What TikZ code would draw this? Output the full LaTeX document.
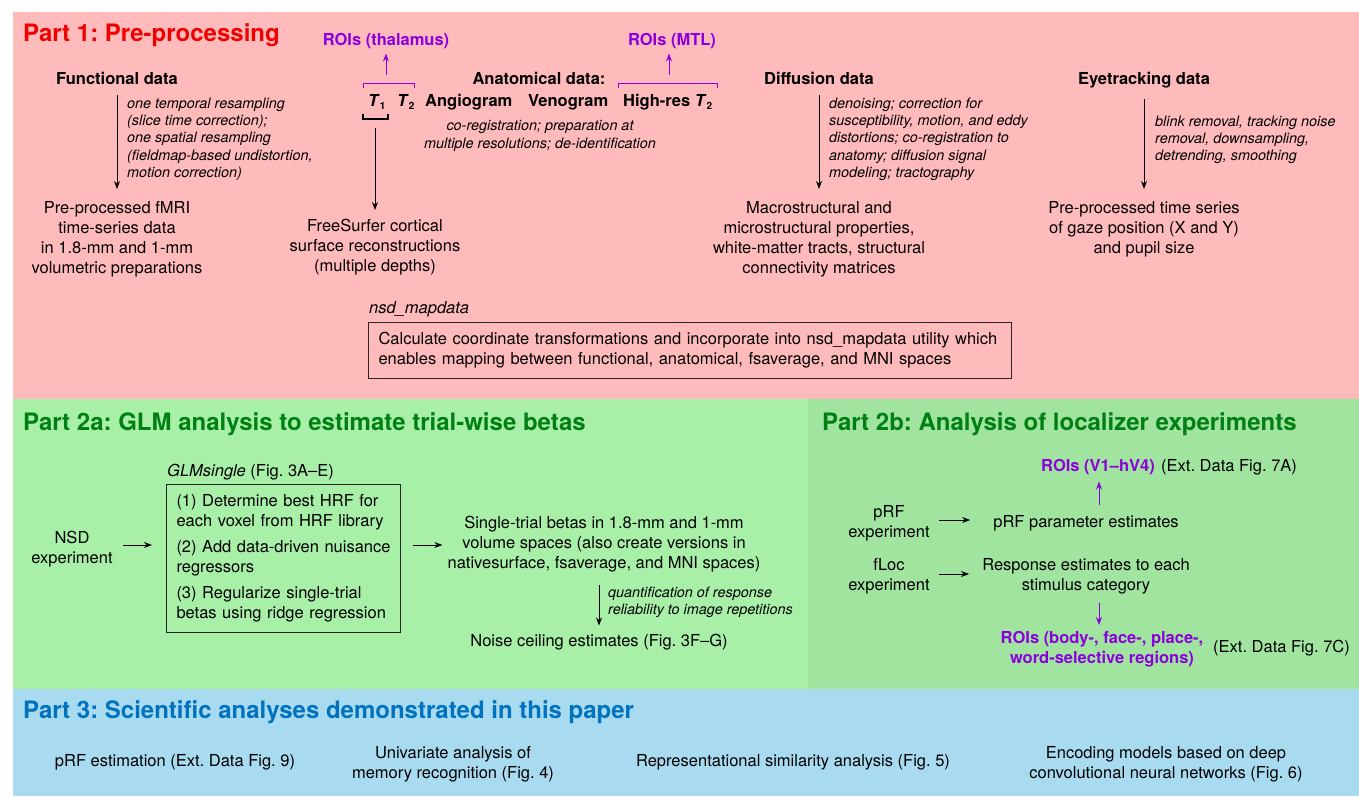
\documentclass[tikz,border=0pt]{standalone}
\usepackage{fontspec}
\setmainfont{TeX Gyre Heros}
\usetikzlibrary{arrows.meta}
\definecolor{pinkbg}{RGB}{255,187,187}
\definecolor{greenA}{RGB}{168,240,168}
\definecolor{greenB}{RGB}{160,228,160}
\definecolor{bluebg}{RGB}{168,218,240}
\definecolor{titlered}{RGB}{240,0,0}
\definecolor{titlegreen}{RGB}{0,128,20}
\definecolor{titleblue}{RGB}{0,114,190}
\definecolor{roipurple}{RGB}{140,0,220}
\newcommand\bodyfs{\fontsize{16.5}{20}\selectfont}
\newcommand\notefs{\fontsize{14.4}{17.3}\selectfont\itshape}
\newcommand\tsub[1]{\raisebox{-3.5pt}{\fontsize{10}{10}\selectfont\bfseries #1}}
\frenchspacing
\begin{document}
\begin{tikzpicture}[x=1pt,y=-1pt,
  tx/.style={inner sep=0pt, font=\bodyfs, align=center},
  bx/.style={inner sep=0pt, font=\bodyfs\bfseries},
  roi/.style={bx, text=roipurple, align=center},
  note/.style={inner sep=0pt, font=\notefs, align=left, anchor=north west},
  ttl/.style={inner sep=0pt, anchor=base west, font=\fontsize{24}{28}\selectfont\bfseries},
  arr/.style={draw=black, line width=0.9pt, -{Stealth[length=8pt,width=6pt]}},
  parr/.style={draw=roipurple, line width=1pt, -{Stealth[length=8pt,width=6pt]}},
  brk/.style={draw=roipurple, line width=1pt},
  framebox/.style={draw=black!85, line width=1pt, inner xsep=10pt, inner ysep=10pt, align=left, font=\bodyfs, anchor=north west}
]
\useasboundingbox (0,0) rectangle (1359,796);
\fill[white] (0,0) rectangle (1359,796);
% backgrounds
\fill[pinkbg] (13,12) rectangle (1359,399);
\fill[greenA] (13,399) rectangle (808,689);
\fill[greenB] (808,399) rectangle (1359,689);
\fill[bluebg] (13,689) rectangle (1359,796);

% ---------------- Part 1 ----------------
\node[ttl, text=titlered] (p1) at (23,41) {Part 1: Pre-processing};

% functional
\node[bx, anchor=base] (func) at (117,84) {Functional data};
\node[tx, anchor=north] (funcout) at (117,201) {Pre-processed fMRI\\time-series data\\in 1.8-mm and 1-mm\\volumetric preparations};
\draw[arr, shorten <=11pt, shorten >=12pt] (func) -- (funcout);
\node[note] (funcnote) at (127,97.5) {one temporal resampling\\(slice time correction);\\one spatial resampling\\(fieldmap-based undistortion,\\motion correction)};

% anatomical
\node[roi, anchor=base] (roith) at (386,45) {ROIs (thalamus)};
\node[bx, anchor=base west] (t1) at (368,106) {\textit{T}\tsub{1}};
\node[bx, anchor=base west] (t2) at (397,106) {\textit{T}\tsub{2}};
\draw[brk] (363,88) -- (363,83) -- (414,83) -- (414,88);
\coordinate (thb) at (386,75);
\draw[parr, shorten >=5pt] (thb) -- (roith);
\draw[line width=1.1pt] (363,114) -- (363,119) -- (388,119) -- (388,114);
\coordinate (t1b) at (375,119);
\node[tx, anchor=north] (fs) at (375,219) {FreeSurfer cortical\\surface reconstructions\\(multiple depths)};
\draw[arr, shorten <=9pt, shorten >=9pt] (t1b) -- (fs);

\node[bx, anchor=base] (anat) at (539,84) {Anatomical data:};
\node[bx, anchor=base west] (angio) at (425,106) {Angiogram};
\node[bx, anchor=base west] (veno) at (528,106) {Venogram};
\node[bx, anchor=base west] (hires) at (623,106) {High-res \textit{T}\tsub{2}};
\node[note, anchor=north, align=center] (anatnote) at (540,120.5) {co-registration; preparation at\\multiple resolutions; de-identification};

\node[roi, anchor=base] (roimtl) at (672,45) {ROIs (MTL)};
\draw[brk] (618,88) -- (618,83) -- (717,83) -- (717,88);
\coordinate (mtlb) at (669,75);
\draw[parr, shorten >=5pt] (mtlb) -- (mtlb |- roimtl.south);

% diffusion
\node[bx, anchor=base] (diff) at (819,84) {Diffusion data};
\node[tx, anchor=north] (diffout) at (819,201) {Macrostructural and\\microstructural properties,\\white-matter tracts, structural\\connectivity matrices};
\draw[arr, shorten <=11pt, shorten >=12pt] (diff) -- (diffout);
\node[note] (diffnote) at (829,97.5) {denoising; correction for\\susceptibility, motion, and eddy\\distortions; co-registration to\\anatomy; diffusion signal\\modeling; tractography};

% eyetracking
\node[bx, anchor=base] (eye) at (1144,84) {Eyetracking data};
\node[tx, anchor=north] (eyeout) at (1144,201) {Pre-processed time series\\of gaze position (X and Y)\\and pupil size};
\draw[arr, shorten <=11pt, shorten >=12pt] (eye) -- (eyeout);
\node[note] (eyenote) at (1155,115.5) {blink removal, tracking noise\\removal, downsampling,\\detrending, smoothing};

% nsd_mapdata
\node[inner sep=0pt, anchor=base west, font=\bodyfs\itshape] (maplab) at (369,313) {nsd\_mapdata};
\node[framebox, text width=623pt, minimum height=56pt, inner ysep=8pt] (mapbox) at (368,322) {\mbox{Calculate coordinate transformations and incorporate into nsd\_mapdata utility which}\\\mbox{enables mapping between functional, anatomical, fsaverage, and MNI spaces}};

% ---------------- Part 2a ----------------
\node[ttl, text=titlegreen] (p2a) at (23,430) {Part 2a: GLM analysis to estimate trial-wise betas};
\node[inner sep=0pt, anchor=base west, font=\bodyfs] (glmlab) at (167,476) {\textit{GLMsingle} (Fig. 3A--E)};
\node[framebox, text width=214pt] (glmbox) at (166,484) {\mbox{(1) Determine best HRF for}\\\mbox{each voxel from HRF library}\\[6pt]\mbox{(2) Add data-driven nuisance}\\regressors\\[6pt]\mbox{(3) Regularize single-trial}\\\mbox{betas using ridge regression}};
\node[tx, anchor=north] (nsd) at (72,531) {NSD\\experiment};
\coordinate (row1) at (0,545);
\draw[arr, shorten <=10pt, shorten >=14pt] (nsd.east |- row1) -- (glmbox.west |- row1);
\node[tx, anchor=north] (betas) at (604,516) {Single-trial betas in 1.8-mm and 1-mm\\volume spaces (also create versions in\\nativesurface, fsaverage, and MNI spaces)};
\draw[arr, shorten <=12pt, shorten >=5pt] (glmbox.east |- row1) -- (betas.west |- row1);
\node[tx, anchor=base] (noise) at (599,646) {Noise ceiling estimates (Fig. 3F--G)};
\draw[arr, shorten <=13pt, shorten >=8pt] (noise |- betas.south) -- (noise.north);
\node[note] (noisenote) at (608,586.5) {quantification of response\\reliability to image repetitions};

% ---------------- Part 2b ----------------
\node[ttl, text=titlegreen] (p2b) at (822,430) {Part 2b: Analysis of localizer experiments};
\node[roi, anchor=base] (roiv) at (1098,471) {ROIs (V1--hV4)};
\node[tx, anchor=base west] (ext7a) at (1161,471) {(Ext. Data Fig. 7A)};
\node[tx, anchor=north] (prf) at (889,505) {pRF\\experiment};
\node[tx, anchor=base] (prfest) at (1086,527) {pRF parameter estimates};
\coordinate (row2) at (0,520);
\draw[arr, shorten <=9pt, shorten >=23pt] (prf.east |- row2) -- (prfest.west |- row2);
\coordinate (pcol) at (1099,0);
\draw[parr, shorten <=10pt, shorten >=7pt] (pcol |- prfest.north) -- (pcol |- roiv.south);
\node[tx, anchor=north] (floc) at (889,558) {fLoc\\experiment};
\node[tx, anchor=north] (respest) at (1086,558) {Response estimates to each\\stimulus category};
\coordinate (row3) at (0,574);
\draw[arr, shorten <=9pt, shorten >=13pt] (floc.east |- row3) -- (respest.west |- row3);
\node[roi, anchor=north] (roibody) at (1102,631) {ROIs (body-, face-, place-,\\word-selective regions)};
\node[tx, anchor=base west] (ext7c) at (1213,652) {(Ext. Data Fig. 7C)};
\draw[parr, shorten <=9pt, shorten >=6pt] (pcol |- respest.south) -- (pcol |- roibody.north);

% ---------------- Part 3 ----------------
\node[ttl, text=titleblue] (p3) at (23,718) {Part 3: Scientific analyses demonstrated in this paper};
\node[tx, anchor=base] (a1) at (175,766) {pRF estimation (Ext. Data Fig. 9)};
\node[tx, anchor=north] (a2) at (453,746) {Univariate analysis of\\memory recognition (Fig. 4)};
\node[tx, anchor=base] (a3) at (793,766) {Representational similarity analysis (Fig. 5)};
\node[tx, anchor=north] (a4) at (1166,746) {Encoding models based on deep\\convolutional neural networks (Fig. 6)};
\end{tikzpicture}
\end{document}
